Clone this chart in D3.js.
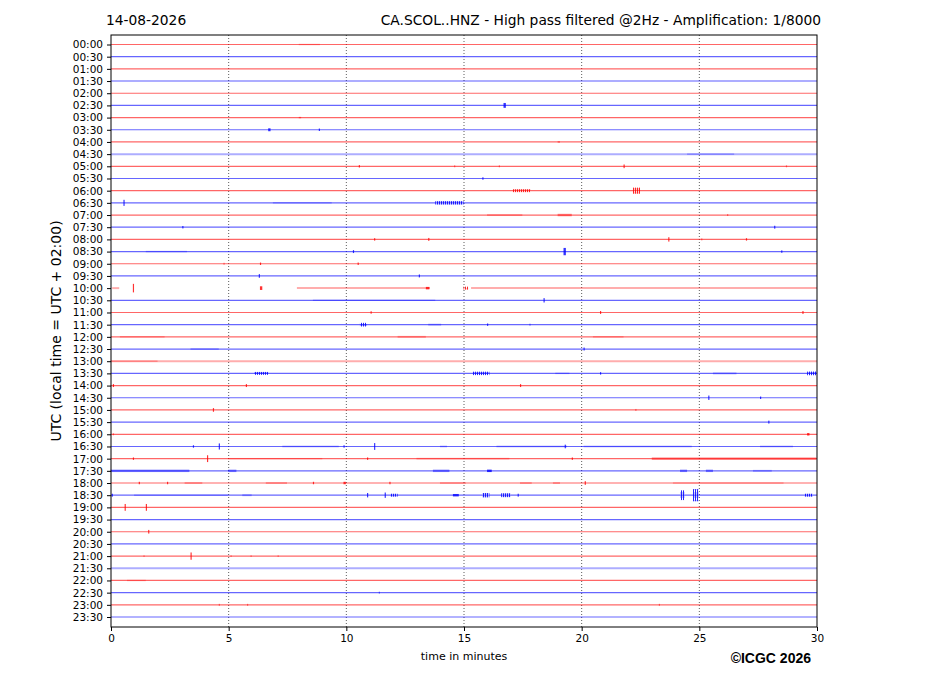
<!DOCTYPE html>
<html>
<head>
<meta charset="utf-8">
<script src="https://cdn.jsdelivr.net/npm/d3@7"></script>
<style>
  body { margin: 0; background: #fff; }
  text { font-family: "DejaVu Sans", sans-serif; }
</style>
</head>
<body>
<div id="chart"></div>
<script>
// row labels, one trace per half hour
const timeLabels = [
  "00:00", "00:30", "01:00", "01:30", "02:00", "02:30", "03:00", "03:30",
  "04:00", "04:30", "05:00", "05:30", "06:00", "06:30", "07:00", "07:30",
  "08:00", "08:30", "09:00", "09:30", "10:00", "10:30", "11:00", "11:30",
  "12:00", "12:30", "13:00", "13:30", "14:00", "14:30", "15:00", "15:30",
  "16:00", "16:30", "17:00", "17:30", "18:00", "18:30", "19:00", "19:30",
  "20:00", "20:30", "21:00", "21:30", "22:00", "22:30", "23:00", "23:30"
];
const minuteTicks = [0, 5, 10, 15, 20, 25, 30];
const traceColors = ["red", "blue"];

// rows with data gaps: [start minute, end minute] of recorded signal
const traceSegments = {
  20: [[0.05, 0.35], [7.9, 13.55], [15.3, 30]]
};

// rows whose background noise makes the trace look fuzzier
const noisyRows = [3, 9, 20, 26, 43];

// events: [row, start minute, end minute, half amplitude (row units)]
const events = [
  [0, 8.0, 8.9, 0.04], [5, 16.7, 16.8, 0.2], [6, 8.0, 8.1, 0.05],
  [7, 6.7, 6.8, 0.12], [7, 8.85, 8.9, 0.1], [8, 19.0, 19.1, 0.05],
  [9, 24.5, 26.5, 0.04],
  [10, 10.55, 10.6, 0.1], [10, 14.6, 14.65, 0.08], [10, 16.5, 16.55, 0.08],
  [10, 21.8, 21.85, 0.15], [10, 28.7, 28.75, 0.08],
  [11, 15.8, 15.85, 0.1],
  [12, 17.1, 17.85, 0.12], [12, 22.2, 22.5, 0.25],
  [13, 0.55, 0.6, 0.25], [13, 6.9, 9.4, 0.05], [13, 13.8, 15.0, 0.14],
  [14, 16.0, 17.5, 0.08], [14, 19.0, 19.6, 0.1], [14, 26.2, 26.25, 0.08],
  [15, 3.05, 3.1, 0.1], [15, 28.2, 28.25, 0.12],
  [16, 11.2, 11.25, 0.1], [16, 13.5, 13.55, 0.12], [16, 23.7, 23.75, 0.18],
  [16, 25.1, 25.15, 0.08], [16, 27.0, 27.05, 0.1],
  [17, 1.5, 3.25, 0.06], [17, 10.3, 10.35, 0.12], [17, 19.25, 19.35, 0.3],
  [17, 28.5, 28.55, 0.1],
  [18, 4.8, 4.85, 0.08], [18, 6.35, 6.4, 0.1], [18, 10.5, 10.55, 0.1],
  [19, 6.3, 6.35, 0.15], [19, 13.1, 13.15, 0.12],
  [20, 0.95, 1.0, 0.35], [20, 6.35, 6.45, 0.15], [20, 13.4, 13.55, 0.1],
  [20, 15.0, 15.2, 0.12],
  [21, 8.6, 13.8, 0.05], [21, 18.4, 18.45, 0.18],
  [22, 11.05, 11.1, 0.1], [22, 20.8, 20.85, 0.12], [22, 29.4, 29.45, 0.12],
  [23, 10.6, 10.9, 0.15], [23, 13.5, 14.05, 0.08], [23, 16.0, 16.05, 0.1],
  [23, 17.8, 17.85, 0.08],
  [24, 0.4, 2.3, 0.05], [24, 12.2, 13.4, 0.08], [24, 20.5, 21.8, 0.06],
  [25, 3.4, 4.6, 0.07], [25, 20.1, 20.15, 0.12],
  [26, 0.0, 2.0, 0.05],
  [27, 6.1, 6.7, 0.12], [27, 15.4, 16.1, 0.14], [27, 18.9, 19.5, 0.06],
  [27, 20.8, 20.85, 0.1], [27, 25.6, 26.6, 0.08], [27, 29.6, 30, 0.15],
  [28, 0.1, 0.15, 0.12], [28, 5.75, 5.8, 0.12], [28, 17.4, 17.45, 0.12],
  [29, 25.4, 25.45, 0.18], [29, 27.6, 27.65, 0.1],
  [30, 4.35, 4.4, 0.15], [30, 22.3, 22.35, 0.08],
  [31, 27.95, 28.0, 0.12],
  [32, 0.1, 0.15, 0.08], [32, 29.6, 29.7, 0.1],
  [33, 3.5, 3.55, 0.1], [33, 4.6, 4.65, 0.25], [33, 7.3, 9.7, 0.07],
  [33, 9.9, 9.95, 0.1], [33, 11.2, 11.25, 0.28], [33, 14.0, 14.3, 0.07],
  [33, 16.4, 19.4, 0.07], [33, 19.3, 19.35, 0.15], [33, 20.1, 24.7, 0.07],
  [33, 27.6, 29.0, 0.07],
  [34, 0.95, 1.0, 0.1], [34, 4.1, 4.15, 0.28], [34, 5.0, 9.0, 0.05],
  [34, 10.9, 10.95, 0.1], [34, 13.0, 16.95, 0.07], [34, 19.6, 19.65, 0.1],
  [34, 23.0, 30, 0.1],
  [35, 0.0, 3.35, 0.1], [35, 5.0, 5.35, 0.1], [35, 13.7, 14.4, 0.1],
  [35, 16.0, 16.2, 0.1], [35, 24.2, 24.5, 0.1], [35, 25.3, 25.6, 0.1],
  [35, 27.3, 28.1, 0.08],
  [36, 1.2, 1.25, 0.1], [36, 2.4, 2.45, 0.1], [36, 3.15, 3.9, 0.08],
  [36, 6.6, 7.5, 0.08], [36, 8.6, 8.65, 0.1], [36, 9.9, 10.0, 0.1],
  [36, 11.85, 11.9, 0.1], [36, 14.0, 15.1, 0.07], [36, 17.4, 17.9, 0.08],
  [36, 18.8, 19.1, 0.08], [36, 20.15, 20.2, 0.15], [36, 23.9, 28.6, 0.05],
  [37, 0.05, 0.1, 0.12], [37, 1.0, 5.0, 0.05], [37, 5.6, 6.0, 0.08],
  [37, 10.9, 10.95, 0.18], [37, 11.65, 11.7, 0.22], [37, 11.9, 12.2, 0.12],
  [37, 14.55, 14.8, 0.1], [37, 15.8, 16.1, 0.18], [37, 16.6, 17.0, 0.16],
  [37, 17.3, 17.35, 0.12], [37, 24.2, 24.4, 0.4], [37, 24.75, 25.0, 0.5],
  [37, 29.5, 29.85, 0.12],
  [38, 0.6, 0.65, 0.28], [38, 1.5, 1.55, 0.28],
  [40, 1.6, 1.65, 0.15],
  [42, 1.4, 1.45, 0.06], [42, 3.4, 3.45, 0.3], [42, 5.1, 5.15, 0.06],
  [42, 5.95, 6.0, 0.06], [42, 7.1, 7.15, 0.06],
  [44, 0.7, 1.5, 0.04],
  [45, 11.4, 11.45, 0.08],
  [46, 4.6, 4.65, 0.08], [46, 5.8, 5.85, 0.08], [46, 23.3, 23.35, 0.08]
];

var margin = { top: 35, right: 110, bottom: 69, left: 111 },
  width = 927 - margin.left - margin.right,
  height = 696 - margin.top - margin.bottom;

var root = d3
  .select("#chart")
  .append("svg")
  .attr("width", 927)
  .attr("height", 696);

// striped fills so strong bursts read as wiggles, not blocks
var defs = root.append("defs");
traceColors.forEach(function (c) {
  var p = defs
    .append("pattern")
    .attr("id", "wig-" + c)
    .attr("width", 2)
    .attr("height", 4)
    .attr("patternUnits", "userSpaceOnUse");
  p.append("rect").attr("width", 1).attr("height", 4).attr("fill", c);
  p.append("rect").attr("x", 1).attr("y", 1.5).attr("width", 1).attr("height", 1).attr("fill", c).attr("opacity", 0.5);
});

var svg = root
  .append("g")
  .attr("transform", "translate(" + margin.left + "," + margin.top + ")");

var x = d3.scaleLinear().domain([0, 30]).range([0, width]);
var y = d3.scaleLinear().domain([-0.78, 47.82]).range([0, height]);
var amp = y(1) - y(0); // pixels per row unit

// dotted minute grid
svg
  .selectAll(".grid")
  .data(minuteTicks.slice(1, -1))
  .enter()
  .append("line")
  .attr("x1", (d) => x(d))
  .attr("x2", (d) => x(d))
  .attr("y1", 0)
  .attr("y2", height)
  .attr("stroke", "#333")
  .attr("stroke-width", 0.8)
  .attr("stroke-dasharray", "1,2");

// baseline of every trace
var rows = timeLabels.map(function (t, i) {
  return { row: i, segs: traceSegments[i] || [[0, 30]] };
});
rows.forEach(function (r) {
  var noisy = noisyRows.includes(r.row);
  svg
    .selectAll(null)
    .data(r.segs)
    .enter()
    .append("line")
    .attr("x1", (d) => x(d[0]))
    .attr("x2", (d) => x(d[1]))
    .attr("y1", y(r.row))
    .attr("y2", y(r.row))
    .attr("stroke", traceColors[r.row % 2])
    .attr("stroke-width", noisy ? 2 : 1.2)
    .attr("stroke-opacity", noisy ? 0.32 : 0.6);
});

// seismic bursts (long, speckled) and spikes (short, sharp)
function halfH(d) {
  return Math.max(0.7, d[3] * amp);
}
function isWiggle(d) {
  return d[3] >= 0.12 && d[2] - d[1] > 0.12;
}
svg
  .selectAll(".ev")
  .data(events)
  .enter()
  .append("rect")
  .attr("x", (d) => x(d[1]) - 0.5)
  .attr("width", (d) => Math.max(1, x(d[2]) - x(d[1])))
  .attr("y", (d) => y(d[0]) - halfH(d))
  .attr("height", (d) => 2 * halfH(d))
  .attr("fill", (d) =>
    isWiggle(d) ? "url(#wig-" + traceColors[d[0] % 2] + ")" : traceColors[d[0] % 2]
  )
  .attr("fill-opacity", function (d) {
    var len = d[2] - d[1];
    if (isWiggle(d)) return 0.85;
    if (d[3] < 0.09) return len > 0.3 ? 0.28 : 0.5;
    return len > 0.3 ? 0.45 : 0.8;
  });

// axes
var yAxis = svg
  .append("g")
  .call(
    d3.axisLeft(y)
      .tickValues(d3.range(timeLabels.length))
      .tickFormat((i) => timeLabels[i])
      .tickSize(4)
      .tickPadding(4)
  );
yAxis.select(".domain").remove();
yAxis.selectAll("text").style("font-size", "10.5px").style("font-family", "DejaVu Sans");

var xAxis = svg
  .append("g")
  .attr("transform", "translate(0," + height + ")")
  .call(d3.axisBottom(x).tickValues(minuteTicks).tickSize(4).tickPadding(4));
xAxis.select(".domain").remove();
xAxis.selectAll("text").style("font-size", "10.5px").style("font-family", "DejaVu Sans");

svg
  .append("rect")
  .attr("width", width)
  .attr("height", height)
  .attr("fill", "none")
  .attr("stroke", "#000")
  .attr("stroke-width", 1);

// titles
root
  .append("text")
  .attr("x", 106)
  .attr("y", 25)
  .style("font-size", "13.8px")
  .text("14-08-2026");

root
  .append("text")
  .attr("x", 821)
  .attr("y", 25)
  .attr("text-anchor", "end")
  .style("font-size", "13.8px")
  .text("CA.SCOL..HNZ - High pass filtered @2Hz - Amplification: 1/8000");

root
  .append("text")
  .attr("transform", "translate(61," + (margin.top + height / 2) + ") rotate(-90)")
  .attr("text-anchor", "middle")
  .style("font-size", "14px")
  .text("UTC (local time = UTC + 02:00)");

root
  .append("text")
  .attr("x", margin.left + width / 2)
  .attr("y", 660)
  .attr("text-anchor", "middle")
  .style("font-size", "11px")
  .text("time in minutes");

root
  .append("text")
  .attr("x", 811)
  .attr("y", 663)
  .attr("text-anchor", "end")
  .style("font-family", "Liberation Sans, Arial, sans-serif")
  .style("font-weight", "bold")
  .style("font-size", "14px")
  .text("©ICGC 2026");
</script>
</body>
</html>
